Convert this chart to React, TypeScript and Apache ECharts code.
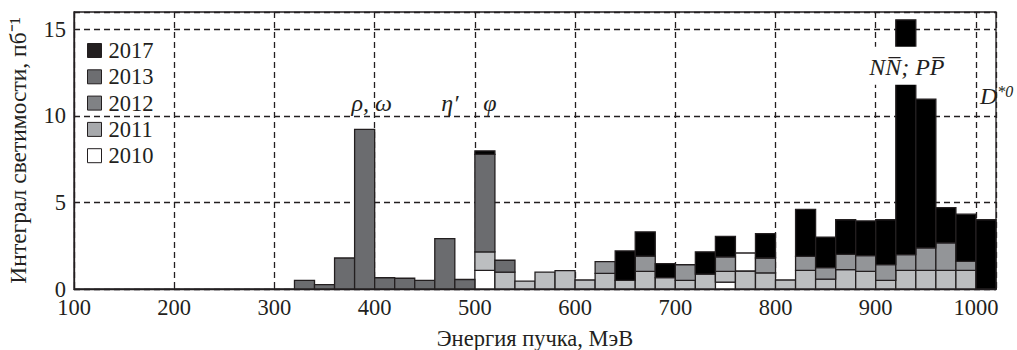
import React, { useEffect, useRef } from "react";
import * as echarts from "echarts";

const _ = null;

// Beam-energy bin centres, MeV, and bin width
const BIN_WIDTH = 20;
const binCenters = [
  330, 350, 370, 390, 410, 430, 450, 470, 490, 510, 530, 550, 570, 590, 610, 630, 650, 670,
  690, 710, 730, 750, 770, 790, 810, 830, 850, 870, 890, 910, 930, 950, 970, 990, 1010,
];

// Integrated luminosity per season, pb^-1 (stacked bottom to top in this order)
const lum2010 = [_, _, _, _, _, _, _, _, _, 1.08, _, _, _, _, _, _, _, _, _, _, _, 0.4, _, _, _, _, _, _, _, _, _, _, _, _, _];
const lum2011 = [_, _, _, _, _, _, _, _, _, 1.06, 0.98, 0.46, 0.98, 1.06, 0.52, 0.9, 0.5, 1.02, 0.66, 0.5, 0.86, 0.62, 1.04, 0.93, 0.52, 1.08, 0.57, 1.12, 1.02, 0.5, 1.08, 1.08, 1.08, 1.08, _];
const lum2010upper = [_, _, _, _, _, _, _, _, _, _, _, _, _, _, _, _, _, _, _, _, _, _, 1.04, _, _, _, _, _, _, _, _, _, _, _, _];
const lum2012 = [_, _, _, _, _, _, _, _, _, _, _, _, _, _, _, 0.68, _, 0.88, _, 0.9, _, 0.83, _, 0.86, _, 0.81, 0.66, 0.88, 0.91, 0.91, 0.91, 1.29, 1.58, 0.52, _];
const lum2013 = [0.5, 0.25, 1.79, 9.22, 0.65, 0.62, 0.5, 2.91, 0.55, 5.64, 0.68, _, _, _, _, _, _, _, _, _, _, _, _, _, _, _, _, _, _, _, _, _, _, _, _];
const lum2017 = [_, _, _, _, _, _, _, _, _, 0.2, _, _, _, _, _, _, 1.7, 1.4, 0.8, _, 1.29, 1.19, _, 1.41, _, 2.71, 1.77, 2.0, 2.0, 2.59, 13.56, 8.59, 2.04, 2.72, 4.0];

const legendYears = ["2017", "2013", "2012", "2011", "2010"];
const legendColors = ["#231f20", "#6d6e71", "#808285", "#a7a9ac", "#ffffff"];

// Resonance annotations (data coordinates)
const annotationTexts = ["ρ, ω", "η′", "φ", "NN\u0305; PP\u0305", "{d|D}{s|*0}"];
const annotationX = [397, 475, 515, 931, 1004];
const annotationY = [10.75, 10.75, 10.75, 12.9, 11.15];

const FONT = "Liberation Serif";
const INK = "#231f20";
const FS = 22.5;

export default function App() {
  const ref = useRef<HTMLDivElement>(null);

  useEffect(() => {
    if (!ref.current) return;
    const chart = echarts.init(ref.current, null, { renderer: "svg" });

    const layers: { name: string; values: (number | null)[]; color: string }[] = [
      { name: "2010", values: lum2010, color: "#ffffff" },
      { name: "2011", values: lum2011, color: "#bcbec0" },
      { name: "2010", values: lum2010upper, color: "#ffffff" },
      { name: "2012", values: lum2012, color: "#939598" },
      { name: "2013", values: lum2013, color: "#6b6c6f" },
      { name: "2017", values: lum2017, color: "#000000" },
    ];

    const cumulative = binCenters.map(() => 0);
    const barSeries = layers.map((layer) => {
      const data: number[][] = [];
      binCenters.forEach((x, i) => {
        const v = layer.values[i];
        if (v === null || v === undefined) return;
        const base = cumulative[i];
        cumulative[i] = base + v;
        data.push([x, base, base + v]);
      });
      return {
        name: layer.name,
        type: "custom",
        itemStyle: { color: layer.color },
        encode: { x: [0], y: [1, 2] },
        data,
        silent: true,
        renderItem: (params: any, api: any) => {
          const c = api.value(0);
          const p0 = api.coord([c - BIN_WIDTH / 2, api.value(1)]);
          const p1 = api.coord([c + BIN_WIDTH / 2, api.value(2)]);
          return {
            type: "rect",
            shape: { x: p0[0], y: p1[1], width: p1[0] - p0[0], height: p0[1] - p1[1] },
            style: { fill: layer.color, stroke: INK, lineWidth: 1.3 },
          };
        },
      };
    });

    const annData = annotationTexts.map((t, i) => ({
      value: [annotationX[i], annotationY[i]],
      label: {
        formatter: t,
        align: i === 4 ? "left" : "center",
        ...(i === 3 ? { backgroundColor: "#ffffff", padding: [8, 2, 6, 2] } : {}),
      },
    }));

    chart.setOption({
      animation: false,
      textStyle: { fontFamily: FONT, color: INK },
      grid: {
        left: 74,
        top: 12,
        right: 21,
        bottom: 61,
        show: true,
        borderColor: INK,
        borderWidth: 1.3,
        containLabel: false,
        outerBoundsMode: "none",
      },
      legend: {
        orient: "vertical",
        left: 82,
        top: 34,
        itemWidth: 14,
        itemHeight: 14,
        itemGap: 3.3,
        icon: "rect",
        selectedMode: false,
        textStyle: { fontFamily: FONT, fontSize: FS, color: INK, lineHeight: 21, padding: [0, 0, 0, 2] },
        data: legendYears.map((y, i) => ({
          name: y,
          itemStyle: { color: legendColors[i], borderColor: INK, borderWidth: 1 },
        })),
      },
      xAxis: {
        type: "value",
        min: 100,
        max: 1020,
        interval: 100,
        name: "Энергия пучка, МэВ",
        nameLocation: "middle",
        nameGap: 38,
        nameTextStyle: { fontFamily: FONT, fontSize: FS, color: INK },
        axisLine: { lineStyle: { color: INK, width: 1.3 } },
        axisTick: { inside: true, length: 5, lineStyle: { color: INK } },
        axisLabel: {
          fontFamily: FONT,
          fontSize: FS,
          color: INK,
          margin: 7,
          formatter: (v: number) => (v % 100 === 0 ? String(v) : ""),
        },
        splitLine: { show: true, lineStyle: { color: INK, type: [6, 4], width: 1.3 } },
      },
      yAxis: {
        type: "value",
        min: 0,
        max: 16,
        interval: 5,
        name: "Интеграл светимости, пб⁻¹",
        nameLocation: "middle",
        nameGap: 44,
        nameTextStyle: { fontFamily: FONT, fontSize: 23.5, color: INK },
        axisLine: { show: true, lineStyle: { color: INK, width: 1.3 } },
        axisTick: { show: true, inside: true, length: 5, lineStyle: { color: INK } },
        axisLabel: {
          fontFamily: FONT,
          fontSize: FS,
          color: INK,
          margin: 8,
          formatter: (v: number) => (v % 5 === 0 ? String(v) : ""),
        },
        splitLine: { show: true, lineStyle: { color: INK, type: [6, 4], width: 1.3 } },
      },
      series: [
        ...barSeries,
        {
          name: "annotations",
          type: "scatter",
          symbolSize: 0,
          z: 10,
          silent: true,
          itemStyle: { opacity: 1 },
          data: annData,
          label: {
            show: true,
            position: "inside",
            fontFamily: FONT,
            fontStyle: "italic",
            fontSize: 24,
            color: INK,
            rich: {
              d: { fontFamily: FONT, fontStyle: "italic", fontSize: 24, color: INK, lineHeight: 24 },
              s: { fontFamily: FONT, fontSize: 16, color: INK, lineHeight: 16, verticalAlign: "top" },
            },
          },
        },
      ],
    });

    return () => chart.dispose();
  }, []);

  return (
    <div
      ref={ref}
      style={{ position: "absolute", left: 0, top: 0, width: 1017, height: 350, background: "#fff" }}
    />
  );
}
